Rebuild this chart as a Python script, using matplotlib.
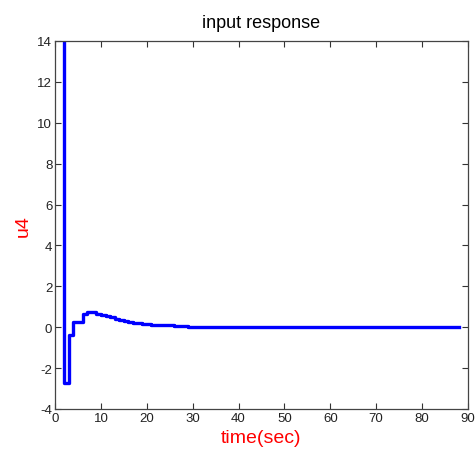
import numpy as np
import matplotlib
matplotlib.use('Agg')
import matplotlib.pyplot as plt

plt.rcParams['font.family'] = ['Liberation Sans', 'DejaVu Sans']
plt.rcParams['axes.unicode_minus'] = False

# sample times (sec) and controller input u4 (staircase signal)
t = np.arange(1, 89)
u4 = [16.0, -2.73, -0.37, 0.27, 0.27, 0.64, 0.74, 0.74, 0.66, 0.60,
      0.56, 0.48, 0.40, 0.34, 0.30, 0.26, 0.22, 0.18, 0.16, 0.14,
      0.13, 0.12, 0.10, 0.10, 0.09, 0.08, 0.07, 0.06, 0.03, 0.03,
      0.03, 0.03, 0.03, 0.03, 0.03, 0.03, 0.03, 0.03, 0.03, 0.03,
      0.03, 0.03, 0.03, 0.03, 0.03, 0.03, 0.03, 0.03, 0.03, 0.03,
      0.03, 0.03, 0.03, 0.03, 0.03, 0.03, 0.03, 0.03, 0.03, 0.03,
      0.03, 0.03, 0.03, 0.03, 0.03, 0.03, 0.03, 0.03, 0.03, 0.03,
      0.03, 0.03, 0.03, 0.03, 0.03, 0.03, 0.03, 0.03, 0.03, 0.03,
      0.03, 0.03, 0.03, 0.03, 0.03, 0.03, 0.03, 0.03]

xticks = np.arange(0, 91, 10)
yticks = np.arange(-4, 15, 2)

fig = plt.figure(figsize=(4.75, 4.56), dpi=100)
ax = fig.add_axes([0.116, 0.101, 0.869, 0.807])

ax.step(t, u4, where='post', color='#0000ff', linewidth=2.4)

ax.set_xlim(0, 90)
ax.set_ylim(-4, 14)
ax.set_xticks(xticks)
ax.set_yticks(yticks)
ax.tick_params(direction='in', top=True, right=True, labelsize=9.5,
               length=4, width=0.8, pad=2, colors='#333333', labelcolor='#222222')
for s in ax.spines.values():
    s.set_linewidth(0.9)
    s.set_color('#444444')

ax.set_title('input response', fontsize=13, pad=10)
ax.set_xlabel('time(sec)', color='red', fontsize=14, labelpad=4)
ax.set_ylabel('u4', color='red', fontsize=14, labelpad=4)

fig.savefig('out.png', dpi=100)
